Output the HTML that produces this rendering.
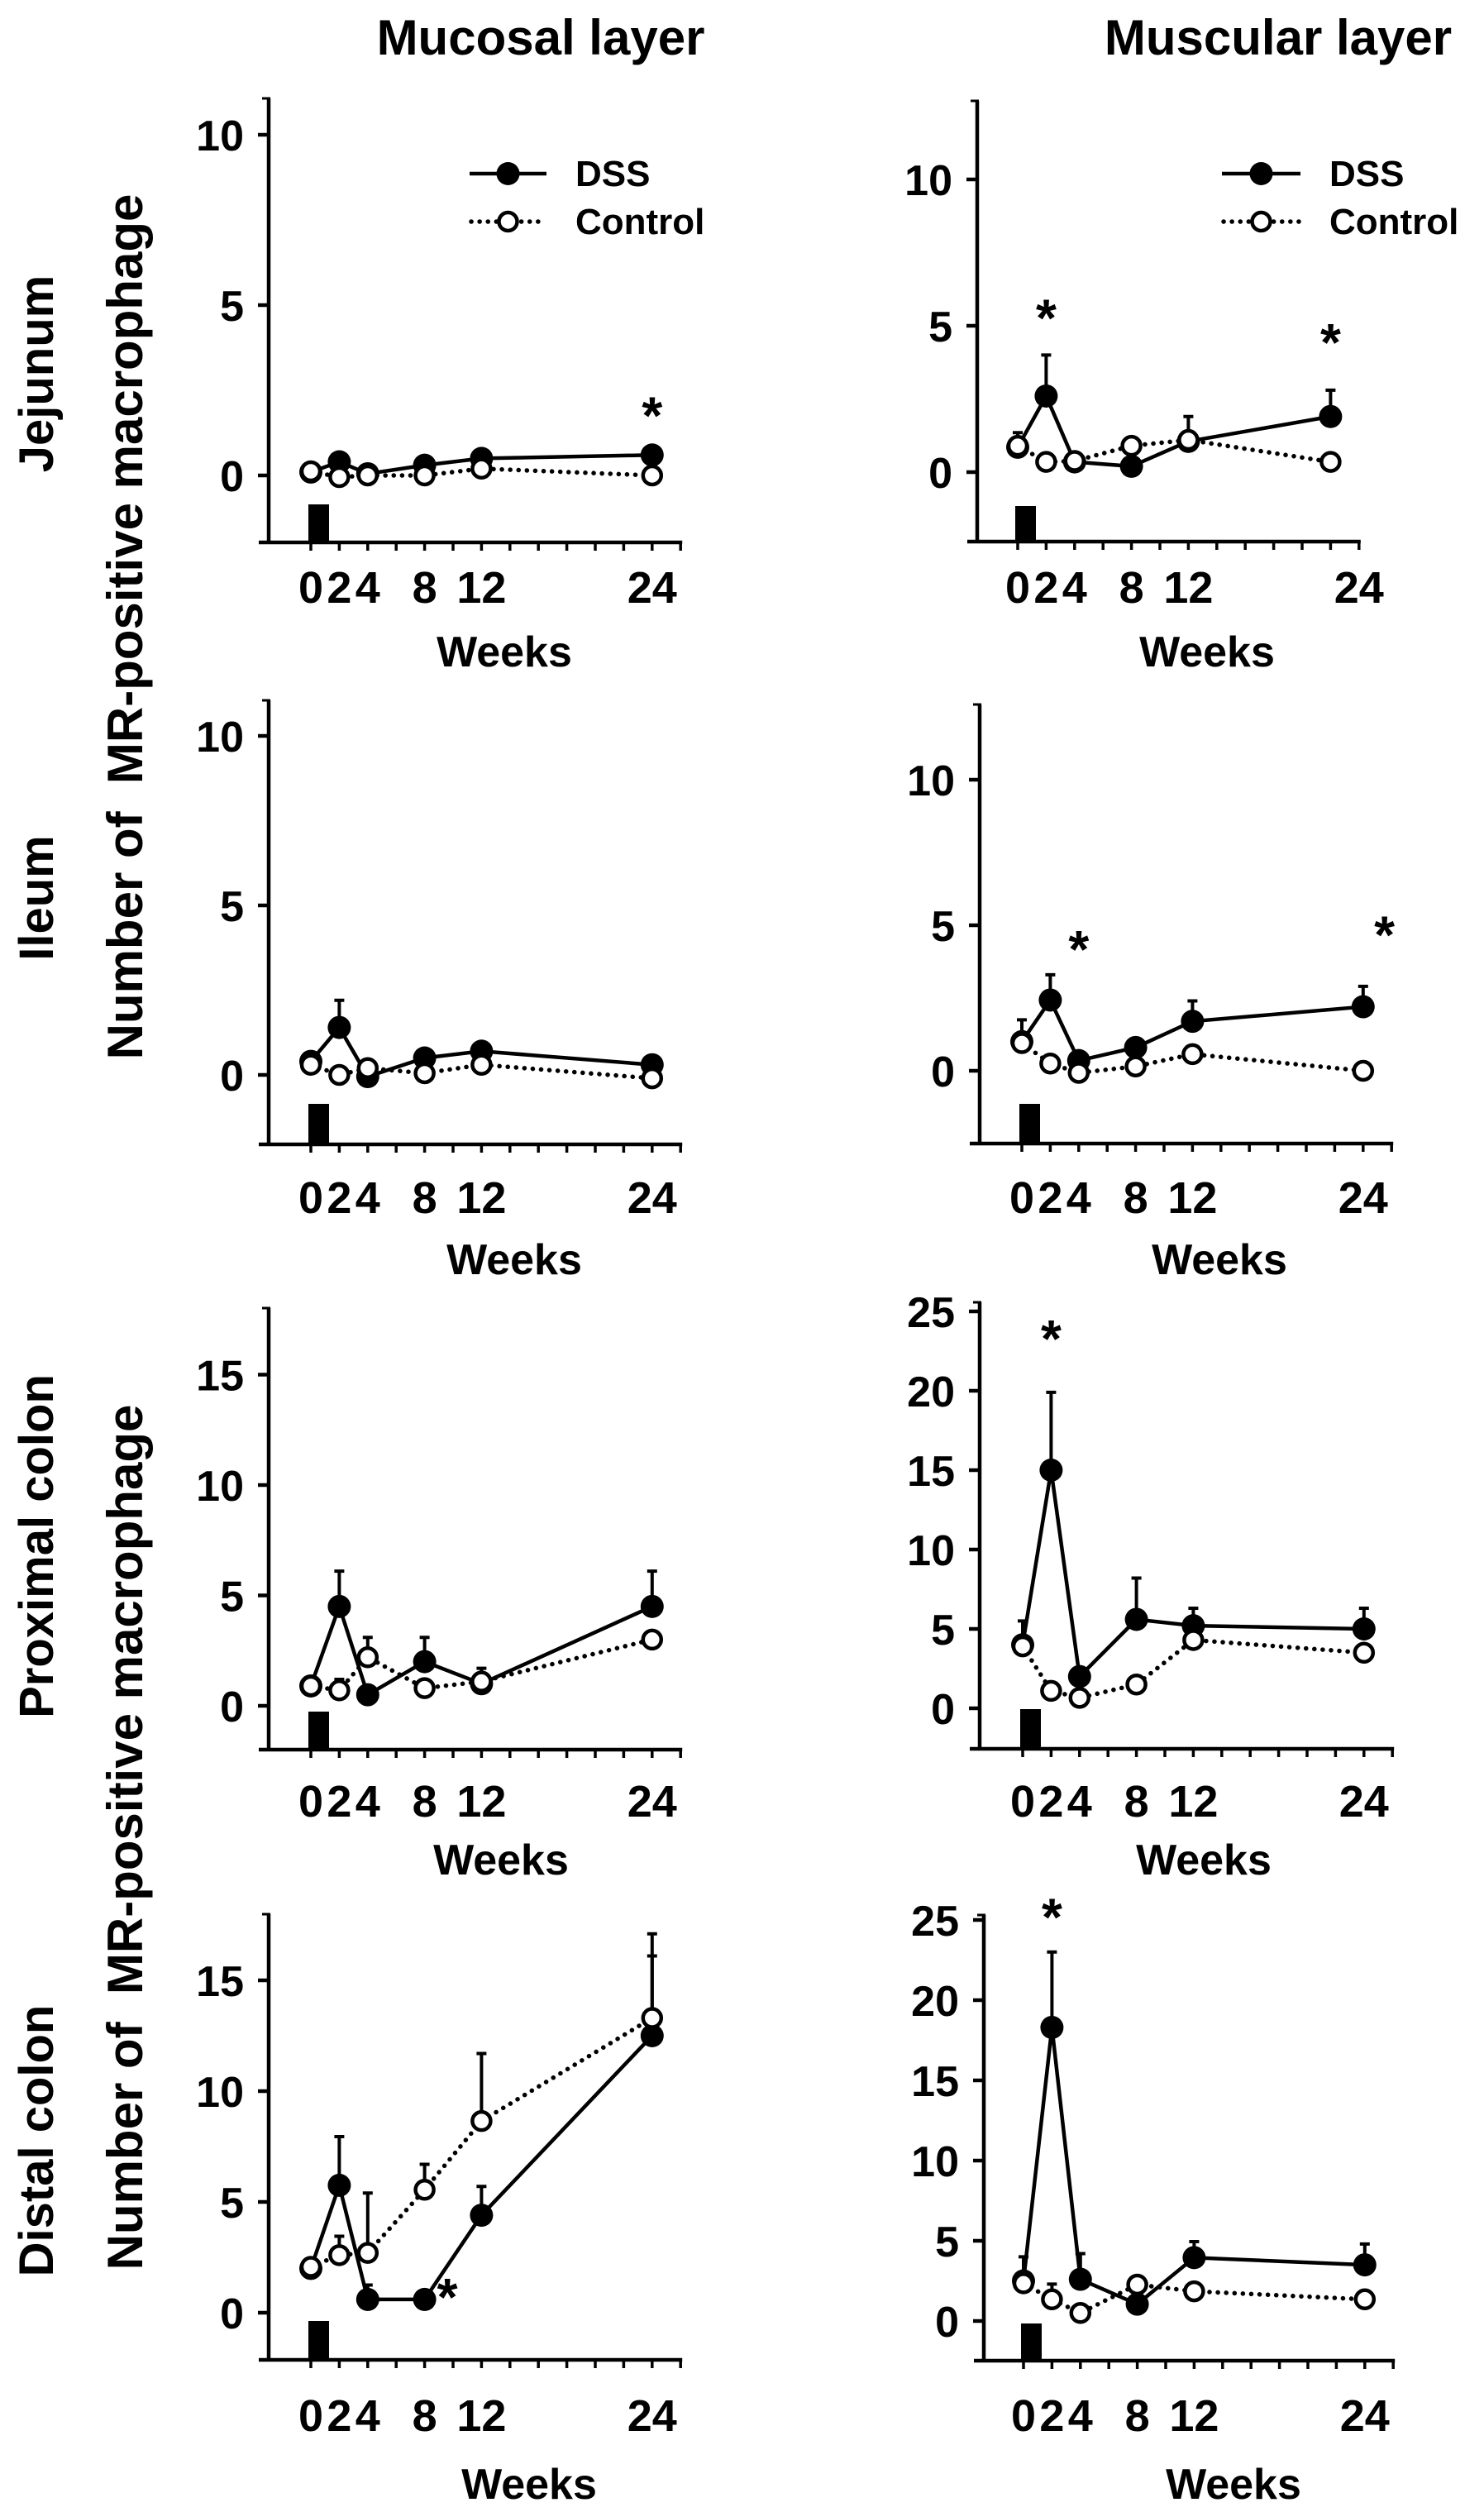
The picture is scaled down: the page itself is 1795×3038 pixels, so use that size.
<!DOCTYPE html>
<html>
<head>
<meta charset="utf-8">
<style>
  html, body { margin: 0; padding: 0; background: #ffffff; }
  svg { display: block; }
  text { font-family: "Liberation Sans", Arial, sans-serif; font-weight: bold; fill: #000; }
</style>
</head>
<body>
<svg id="fig" width="1795" height="3038" viewBox="0 0 1795 3038" xmlns="http://www.w3.org/2000/svg">
  <text x="654" y="66" font-size="60" text-anchor="middle">Mucosal layer</text>
  <text x="1546" y="66" font-size="60" text-anchor="middle">Muscular layer</text>

  <text transform="translate(64,452) rotate(-90)" font-size="58" text-anchor="middle">Jejunum</text>
  <text transform="translate(64,1086) rotate(-90)" font-size="58" text-anchor="middle">Ileum</text>
  <text transform="translate(64,1870) rotate(-90)" font-size="58" text-anchor="middle">Proximal colon</text>
  <text transform="translate(64,2589) rotate(-90)" font-size="58" text-anchor="middle">Distal colon</text>

  <text transform="translate(172,758) rotate(-90)" font-size="60" text-anchor="middle" xml:space="preserve">Number of  MR-positive macrophage</text>
  <text transform="translate(172,2222) rotate(-90)" font-size="60" text-anchor="middle" xml:space="preserve">Number of  MR-positive macrophage</text>
</svg>
<script>
// ---- data ----
const weeks = [0, 2, 4, 8, 12, 24];
const weeksJejMus = [0, 2, 4, 8, 12, 22];
const xTickLabels = ["0", "2", "4", "8", "12", "24"];

const jejMucDss = [0.1, 0.4, 0.05, 0.3, 0.5, 0.6];
const jejMucDssErr = [null, null, null, null, null, null];
const jejMucCtrl = [0.12, -0.05, 0, 0, 0.2, 0];
const jejMucCtrlErr = [null, null, null, null, null, null];

const jejMusDss = [0.85, 2.6, 0.35, 0.2, 1.05, 1.9];
const jejMusDssErr = [1.35, 4.0, null, null, 1.9, 2.8];
const jejMusCtrl = [0.9, 0.35, 0.38, 0.9, 1.1, 0.35];
const jejMusCtrlErr = [null, null, null, null, null, null];

const ileMucDss = [0.4, 1.4, -0.05, 0.5, 0.7, 0.3];
const ileMucDssErr = [null, 2.2, null, null, null, null];
const ileMucCtrl = [0.3, 0, 0.2, 0.05, 0.3, -0.1];
const ileMucCtrlErr = [null, null, null, null, null, null];

const ileMusDss = [1.0, 2.43, 0.35, 0.8, 1.7, 2.2];
const ileMusDssErr = [1.75, 3.3, null, null, 2.4, 2.9];
const ileMusCtrl = [0.95, 0.25, -0.07, 0.15, 0.57, 0];
const ileMusCtrlErr = [null, null, null, null, null, null];

const pcoMucDss = [0.9, 4.5, 0.5, 2.0, 1.0, 4.5];
const pcoMucDssErr = [null, 6.1, null, 3.1, 1.7, 6.1];
const pcoMucCtrl = [0.9, 0.7, 2.2, 0.8, 1.1, 3.0];
const pcoMucCtrlErr = [null, 1.2, 3.1, null, null, null];

const pcoMusDss = [4.0, 15.0, 2.0, 5.6, 5.2, 5.0];
const pcoMusDssErr = [5.5, 19.9, null, 8.2, 6.3, 6.3];
const pcoMusCtrl = [3.9, 1.1, 0.66, 1.5, 4.3, 3.5];
const pcoMusCtrlErr = [null, null, null, null, null, null];

const dcoMucDss = [2.0, 5.75, 0.6, 0.6, 4.4, 12.5];
const dcoMucDssErr = [null, 7.95, 1.25, null, 5.7, 16.1];
const dcoMucCtrl = [2.07, 2.6, 2.7, 5.55, 8.65, 13.3];
const dcoMucCtrlErr = [null, 3.45, 5.4, 6.7, 11.7, 17.1];

const dcoMusDss = [2.5, 18.3, 2.6, 1.05, 3.95, 3.5];
const dcoMusDssErr = [4.0, 23.0, 4.2, null, 4.95, 4.8];
const dcoMusCtrl = [2.35, 1.35, 0.5, 2.27, 1.85, 1.35];
const dcoMusCtrlErr = [null, 2.3, null, null, null, null];

// significance markers: [week, value]
const jejMucStars = [[24, 1.95]];
const jejMusStars = [[2, 5.5], [22, 4.66]];
const ileMusStars = [[4, 4.4], [25.5, 4.9]];
const pcoMusStars = [[2, 23.7]];
const dcoMucStars = [[9.6, 1.0]];
const dcoMusStars = [[2, 25.6]];

const yTicks10 = [0, 5, 10];
const yTicks15 = [0, 5, 10, 15];
const yTicks25 = [0, 5, 10, 15, 20, 25];

// ---- layout (geometry only) ----
const panels = [
  {name:"jejunum-mucosal", ax:325, x0:376, xmax:26, zeroY:575, unitPx:41.2, top:119, base:656, barTop:610, ticks:yTicks10, lblY:729, wkX:610, wkY:806, weeks:weeks, dss:jejMucDss, dssE:jejMucDssErr, ctl:jejMucCtrl, ctlE:jejMucCtrlErr, stars:jejMucStars, legend:[568,661,696]},
  {name:"jejunum-muscular", ax:1182, x0:1231, xmax:24, zeroY:571, unitPx:35.4, top:122, base:655, barTop:612, ticks:yTicks10, lblY:729, wkX:1460, wkY:806, weeks:weeksJejMus, dss:jejMusDss, dssE:jejMusDssErr, ctl:jejMusCtrl, ctlE:jejMusCtrlErr, stars:jejMusStars, legend:[1478,1573,1608]},
  {name:"ileum-mucosal", ax:325, x0:376, xmax:26, zeroY:1300, unitPx:41.0, top:847, base:1384, barTop:1335, ticks:yTicks10, lblY:1467, wkX:622, wkY:1541, weeks:weeks, dss:ileMucDss, dssE:ileMucDssErr, ctl:ileMucCtrl, ctlE:ileMucCtrlErr, stars:[]},
  {name:"ileum-muscular", ax:1185, x0:1236, xmax:26, zeroY:1295, unitPx:35.2, top:852, base:1383, barTop:1335, ticks:yTicks10, lblY:1467, wkX:1475, wkY:1541, weeks:weeks, dss:ileMusDss, dssE:ileMusDssErr, ctl:ileMusCtrl, ctlE:ileMusCtrlErr, stars:ileMusStars},
  {name:"proximal-colon-mucosal", ax:325, x0:376, xmax:26, zeroY:2063, unitPx:26.7, top:1582, base:2116, barTop:2070, ticks:yTicks15, lblY:2197, wkX:606, wkY:2267, weeks:weeks, dss:pcoMucDss, dssE:pcoMucDssErr, ctl:pcoMucCtrl, ctlE:pcoMucCtrlErr, stars:[]},
  {name:"proximal-colon-muscular", ax:1185, x0:1237, xmax:26, zeroY:2066, unitPx:19.2, top:1575, base:2115, barTop:2067, ticks:yTicks25, lblY:2197, wkX:1456, wkY:2267, weeks:weeks, dss:pcoMusDss, dssE:pcoMusDssErr, ctl:pcoMusCtrl, ctlE:pcoMusCtrlErr, stars:pcoMusStars},
  {name:"distal-colon-mucosal", ax:325, x0:376, xmax:26, zeroY:2797, unitPx:26.8, top:2315, base:2854, barTop:2807, ticks:yTicks15, lblY:2940, wkX:640, wkY:3022, weeks:weeks, dss:dcoMucDss, dssE:dcoMucDssErr, ctl:dcoMucCtrl, ctlE:dcoMucCtrlErr, stars:dcoMucStars},
  {name:"distal-colon-muscular", ax:1190, x0:1238, xmax:26, zeroY:2807, unitPx:19.4, top:2316, base:2855, barTop:2810, ticks:yTicks25, lblY:2940, wkX:1492, wkY:3022, weeks:weeks, dss:dcoMusDss, dssE:dcoMusDssErr, ctl:dcoMusCtrl, ctlE:dcoMusCtrlErr, stars:dcoMusStars}
];
const PX_PER_WEEK = 17.2;
const NS = "http://www.w3.org/2000/svg";
const svg = document.getElementById("fig");

function mk(tag, attrs, parent) {
  const e = document.createElementNS(NS, tag);
  for (const k in attrs) e.setAttribute(k, attrs[k]);
  (parent || svg).appendChild(e);
  return e;
}

panels.forEach(function(p) {
  const g = mk("g", {});
  
  
  const xs = function(w) { return p.x0 + w * PX_PER_WEEK; };
  const ys = function(v) { return p.zeroY - v * p.unitPx; };

  // y axis
  const ya = mk("line", {x1:p.ax, y1:p.top, x2:p.ax, y2:p.base+2, stroke:"#000", "stroke-width":4.5}, g);
  
  
  mk("line", {x1:p.ax-8, y1:p.top, x2:p.ax+2, y2:p.top, stroke:"#000", "stroke-width":3}, g);
  p.ticks.forEach(function(t) {
    const yy = ys(t);
    const tk = mk("line", {x1:p.ax-13, y1:yy, x2:p.ax, y2:yy, stroke:"#000", "stroke-width":4.5}, g);
    
    
    const tl = mk("text", {x:p.ax-30, y:yy+19, "font-size":52, "text-anchor":"end"}, g);
    tl.textContent = String(t);
    
    
  });

  // x axis
  const xEnd = xs(p.xmax);
  const xa = mk("line", {x1:p.ax-12, y1:p.base, x2:xEnd+2, y2:p.base, stroke:"#000", "stroke-width":4.5}, g);
  
  
  for (let w = 0; w <= p.xmax; w += 2) {
    mk("line", {x1:xs(w), y1:p.base, x2:xs(w), y2:p.base+10, stroke:"#000", "stroke-width":3.5}, g);
  }
  weeks.forEach(function(w, i) {
    const tl = mk("text", {x:xs(w), y:p.lblY, "font-size":54, "text-anchor":"middle"}, g);
    tl.textContent = xTickLabels[i];
    
    
  });
  const wk = mk("text", {x:p.wkX, y:p.wkY, "font-size":52, "text-anchor":"middle"}, g);
  wk.textContent = "Weeks";
  
  

  // DSS treatment bar
  const bar = mk("rect", {x:xs(0)-3, y:p.barTop, width:25, height:p.base-p.barTop, fill:"#000"}, g);
  
  

  // error bars
  function errBars(vals, errs, nm) {
    vals.forEach(function(v, i) {
      if (errs[i] === null) return;
      const x = xs(p.weeks[i]);
      const eb = mk("path", {d:"M"+x+","+ys(v)+"V"+ys(errs[i])+"M"+(x-6)+","+ys(errs[i])+"H"+(x+6), stroke:"#000", "stroke-width":4, fill:"none"}, g);
      
      
    });
  }
  errBars(p.ctl, p.ctlE, 'control');
  errBars(p.dss, p.dssE, 'dss');

  // lines
  const ctlPts = p.ctl.map(function(v, i) { return xs(p.weeks[i]) + "," + ys(v); }).join(" ");
  const cl = mk("polyline", {points:ctlPts, fill:"none", stroke:"#000", "stroke-width":5.5, "stroke-dasharray":"0.1 10", "stroke-linecap":"round"}, g);
  
  
  const dssPts = p.dss.map(function(v, i) { return xs(p.weeks[i]) + "," + ys(v); }).join(" ");
  const dl = mk("polyline", {points:dssPts, fill:"none", stroke:"#000", "stroke-width":4.5}, g);
  
  

  // markers
  p.dss.forEach(function(v, i) {
    const c = mk("circle", {cx:xs(p.weeks[i]), cy:ys(v), r:14, fill:"#000"}, g);
    
    
  });
  p.ctl.forEach(function(v, i) {
    const c = mk("circle", {cx:xs(p.weeks[i]), cy:ys(v), r:11, fill:"#fff", stroke:"#000", "stroke-width":4.5}, g);
    
    
  });

  // significance stars
  p.stars.forEach(function(s) {
    const st = mk("text", {x:xs(s[0]), y:ys(s[1])+30, "font-size":64, "font-weight":"normal", "text-anchor":"middle"}, g);
    st.textContent = "*";
    
    
  });

  // legend
  if (p.legend) {
    const L = p.legend;
    const lg = mk("g", {}, g);
    
    
    mk("line", {x1:L[0], y1:210, x2:L[1], y2:210, stroke:"#000", "stroke-width":4.5}, lg);
    mk("circle", {cx:(L[0]+L[1])/2, cy:210, r:14, fill:"#000"}, lg);
    const t1 = mk("text", {x:L[2], y:225, "font-size":44}, lg);
    t1.textContent = "DSS";
    
    
    mk("line", {x1:L[0]+2, y1:268, x2:L[1]-2, y2:268, stroke:"#000", "stroke-width":5.5, "stroke-dasharray":"0.1 10", "stroke-linecap":"round"}, lg);
    mk("circle", {cx:(L[0]+L[1])/2, cy:268, r:11, fill:"#fff", stroke:"#000", "stroke-width":4.5}, lg);
    const t2 = mk("text", {x:L[2], y:283, "font-size":44}, lg);
    t2.textContent = "Control";
    
    
  }
});
</script>
</body>
</html>
